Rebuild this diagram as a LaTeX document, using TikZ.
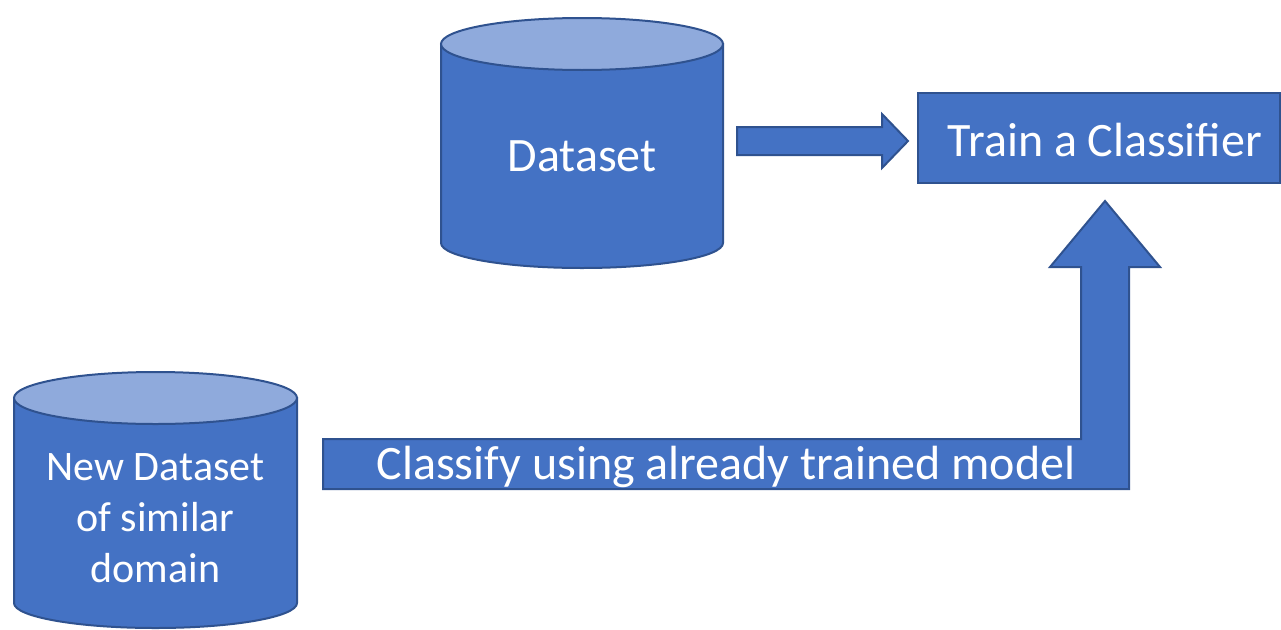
\documentclass[tikz,border=0pt]{standalone}
\usepackage{fontspec}
\setmainfont{Carlito}
\definecolor{fillblue}{HTML}{4472C4}
\definecolor{edgeblue}{HTML}{2F528F}
\definecolor{topblue}{HTML}{8FAADC}
\tikzset{
  shapestyle/.style={fill=fillblue, draw=edgeblue, line width=2pt, line join=miter},
  toptext/.style={text=white, font=\fontsize{48}{57}\selectfont, inner sep=0pt},
  smalltext/.style={text=white, font=\fontsize{42}{51}\selectfont, align=center, inner sep=0pt},
}
\begin{document}
\begin{tikzpicture}[x=1pt,y=-1pt]
\useasboundingbox (0,0) rectangle (1281,629);
% Dataset cylinder
\path[shapestyle] (441,44) -- (441,243) arc[start angle=180,end angle=0,x radius=141,y radius=25] -- (723,44) -- cycle;
\path[fill=topblue, draw=edgeblue, line width=2pt] (582,44) ellipse[x radius=141,y radius=26];
\node[toptext] (ds) at (582,156) {Dataset};
% New dataset cylinder
\path[shapestyle] (14,398) -- (14,603) arc[start angle=180,end angle=0,x radius=141.5,y radius=25] -- (297,398) -- cycle;
\path[fill=topblue, draw=edgeblue, line width=2pt] (155.5,398) ellipse[x radius=141.5,y radius=26];
\node[smalltext] (nds) at (155.5,518) {New Dataset\\of similar\\domain};
% Train box
\node[shapestyle, minimum width=362pt, minimum height=90pt, inner sep=0pt] (train) at (1099,138) {};
\node[toptext] (traintext) at (1105,140) {Train a Classifier};
% right block arrow
\path[shapestyle] (737,127) -- (882,127) -- (882,114) -- (908,141) -- (882,168) -- (882,155) -- (737,155) -- cycle;
% bent block arrow
\path[shapestyle] (323,439) -- (1081,439) -- (1081,267) -- (1050,267) -- (1105,201) -- (1160,267) -- (1129,267) -- (1129,489) -- (323,489) -- cycle;
\node[toptext] (cls) at (726,467) {Classify using already trained model};
\end{tikzpicture}
\end{document}
